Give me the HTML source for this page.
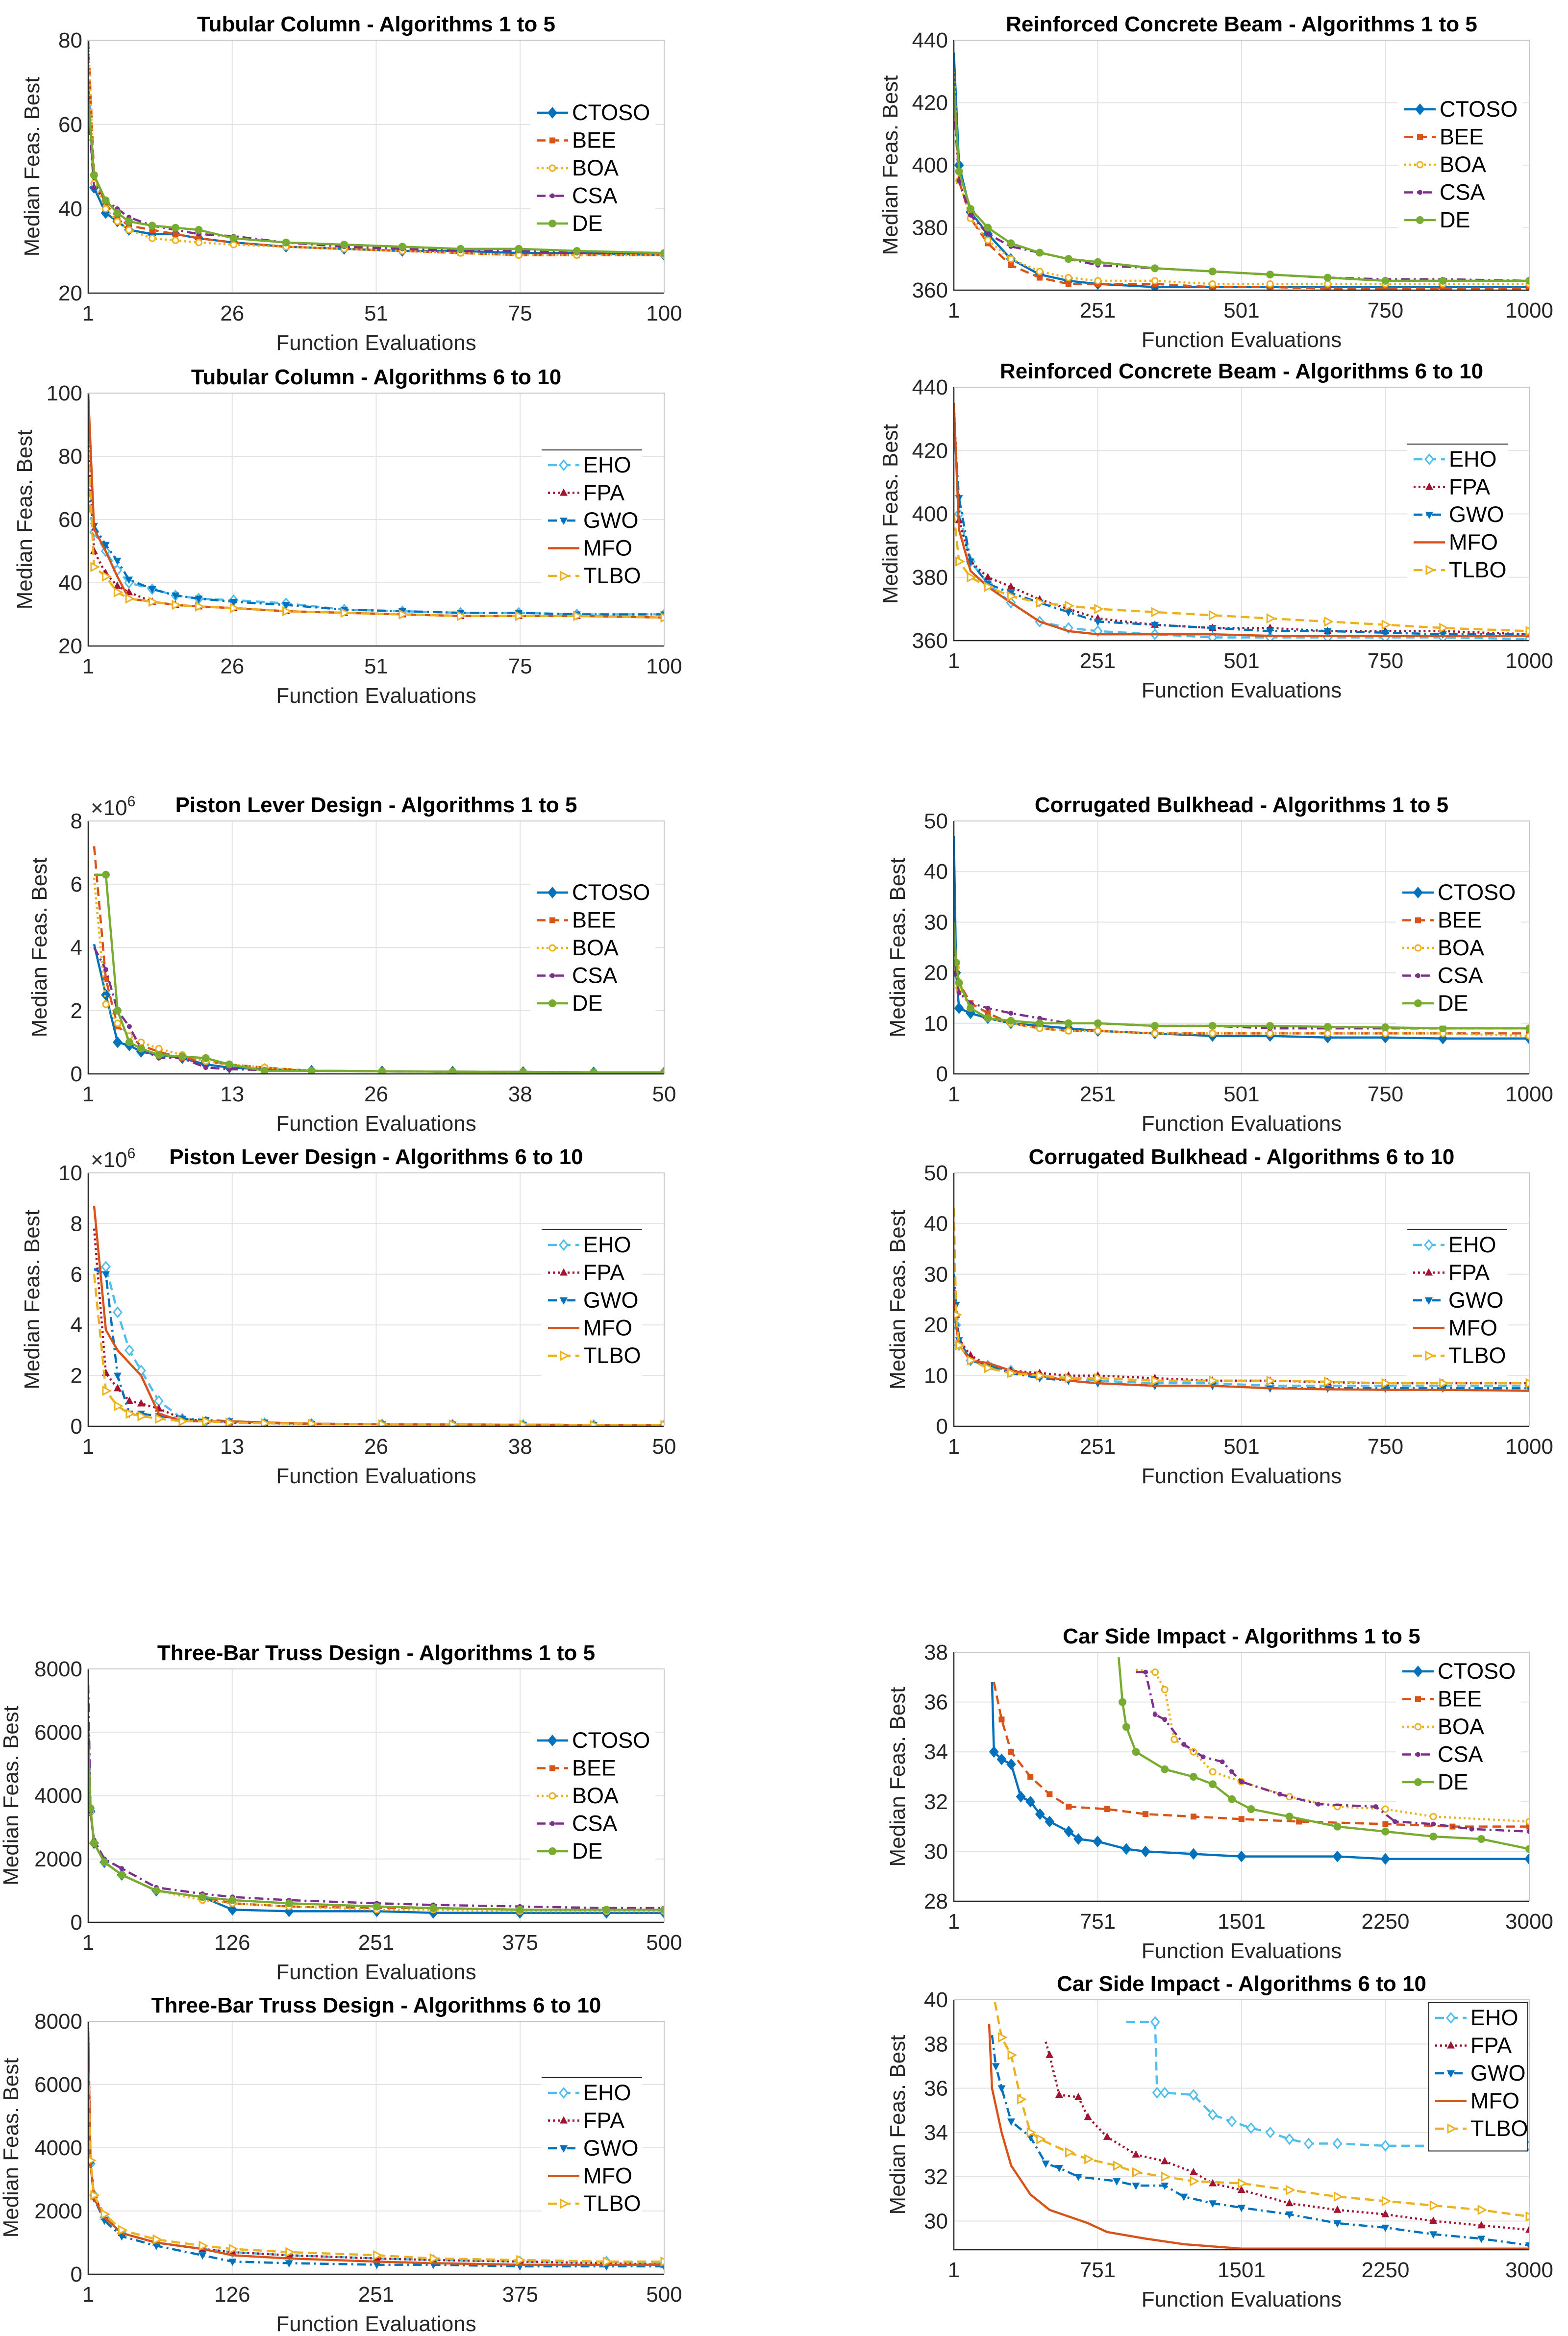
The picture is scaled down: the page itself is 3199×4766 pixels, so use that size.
<!DOCTYPE html>
<html><head><meta charset="utf-8"><title>Convergence plots</title>
<style>
html,body{margin:0;padding:0;background:#fff;}
svg{display:block;font-family:"Liberation Sans",Arial,sans-serif;}
</style></head>
<body>
<svg id="fig" xmlns="http://www.w3.org/2000/svg" width="3199" height="4766" viewBox="0 0 3199 4766">
<rect x="0" y="0" width="3199" height="4766" fill="#fff"/>
</svg>
<script>
// ---------- data ----------
const tcX=[1,2,4,6,8,12,16,20,26,35,45,55,65,75,85,100];
const tc1CTOSO=[69,45,39,37,35,34,34,33,32,31,30.5,30,30,29.5,29.5,29];
const tc1BEE=[80,48,41,38,36,35,34,33,32,31,30.5,30,29.5,29,29,29];
const tc1BOA=[80,46,40,37,35,33,32.5,32,31.5,31,30.5,30,29.5,29,29,29];
const tc1CSA=[64,45,42,40,38,36,35,34,33.5,32,31,30.5,30,30,29.5,29.5];
const tc1DE=[66,48,42,39,37,36,35.5,35,33,32,31.5,31,30.5,30.5,30,29.5];
const tc2EHO=[65,56,50,44,40,38,36,35,34.5,33.5,31.5,31,30.5,30.5,30,30];
const tc2FPA=[85,50,43,39,37,34,33,32.5,32,31,30.5,30,29.5,29.5,29.5,29];
const tc2GWO=[70,58,52,47,41,38,36,35,34,33,31.5,31,30.5,30.5,30,30];
const tc2MFO=[100,57,50,42,35,34,33,32.5,32,31,30.5,30,29.5,29.5,29.5,29];
const tc2TLBO=[82,45,42,37,35,34,33,32.5,32,31,30.5,30,29.5,29.5,29.5,29];

const rcX=[1,10,30,60,100,150,200,251,350,450,550,650,750,850,1000];
const rc1CTOSO=[436,400,385,378,370,365,363,362,361,361,361,361,361,361,361];
const rc1BEE=[425,395,383,375,368,364,362,362,362,361,361,360.5,360.5,360.5,360.5];
const rc1BOA=[430,395,383,376,370,366,364,363,363,362,362,362,362,362,362];
const rc1CSA=[420,395,384,378,374,372,370,368,367,366,365,364,363.5,363.5,363];
const rc1DE=[425,398,386,380,375,372,370,369,367,366,365,364,363,363,363];
const rc2EHO=[430,400,385,378,372,366,364,363,362,361,361,361,361,361,360.5];
const rc2FPA=[435,398,385,380,377,373,370,367,365,364,364,363,363,363,362];
const rc2GWO=[428,405,385,378,375,372,369,366,365,364,363,363,362.5,362,362];
const rc2MFO=[435,395,382,377,372,366,363,362,362,362,361.5,361.5,361.5,361.5,361.5];
const rc2TLBO=[400,385,380,377,374,372,371,370,369,368,367,366,365,364,363];

const plX=[1.5,2.5,3.5,4.5,5.5,7,9,11,13,16,20,26,32,38,44,50];
const pl1CTOSO=[4.1,2.5,1.0,0.9,0.7,0.6,0.5,0.3,0.2,0.15,0.1,0.08,0.07,0.06,0.05,0.05];
const pl1BEE=[7.2,3.0,1.5,1.2,0.9,0.7,0.5,0.4,0.3,0.2,0.1,0.08,0.07,0.06,0.05,0.05];
const pl1BOA=[6.2,2.2,1.6,1.2,1.0,0.8,0.6,0.4,0.3,0.2,0.1,0.08,0.07,0.06,0.05,0.05];
const pl1CSA=[4.0,3.3,2.0,1.5,0.8,0.5,0.5,0.2,0.15,0.12,0.1,0.08,0.07,0.06,0.05,0.05];
const pl1DE=[6.3,6.3,2.0,1.0,0.8,0.6,0.55,0.5,0.3,0.1,0.1,0.08,0.07,0.06,0.05,0.05];
const pl2EHO=[6.2,6.3,4.5,3.0,2.2,1.0,0.3,0.2,0.15,0.12,0.1,0.08,0.07,0.06,0.05,0.05];
const pl2FPA=[7.8,2.1,1.5,1.0,0.9,0.7,0.3,0.2,0.15,0.12,0.1,0.08,0.07,0.06,0.05,0.05];
const pl2GWO=[6.2,6.0,2.0,0.5,0.5,0.4,0.3,0.25,0.2,0.15,0.1,0.08,0.07,0.06,0.05,0.05];
const pl2MFO=[8.7,3.8,3.0,2.5,2.0,0.5,0.2,0.2,0.2,0.15,0.1,0.08,0.07,0.06,0.05,0.05];
const pl2TLBO=[6.0,1.4,0.8,0.5,0.4,0.3,0.2,0.2,0.15,0.12,0.1,0.08,0.07,0.06,0.05,0.05];

const cbX=[1,5,10,30,60,100,150,200,251,350,450,550,650,750,850,1000];
const cb1CTOSO=[47,20,13,12,11,10,9.5,9,8.5,8,7.5,7.5,7.2,7.2,7,7];
const cb1BEE=[30,22,18,14,12,10,9,8.5,8.5,8,8,8,8,8,8,8];
const cb1BOA=[28,21,17,13,11,10,9,8.5,8.5,8,8,8,8,8,8,7.5];
const cb1CSA=[25,20,16,14,13,12,11,10,10,9.5,9.5,9,9,9,9,9];
const cb1DE=[30,22,18,13,11,10.5,10,10,10,9.5,9.5,9.5,9.3,9.2,9,9];
const cb2EHO=[35,20,16,13,12,11,10,9.5,9,8.5,8.5,8,8,8,8,8];
const cb2FPA=[28,22,17,14,12,11,10.5,10,10,9.5,9,9,8.7,8.5,8.5,8.5];
const cb2GWO=[30,24,17,13,12,10.5,9.5,9,8.5,8,8,7.5,7.5,7.5,7.5,7.5];
const cb2MFO=[25,20,16,13,12.5,11,10,9,8.5,8,8,7.5,7.3,7.2,7.2,7];
const cb2TLBO=[43,22,16,13,11.5,10.5,10,9.5,9.5,9,9,9,8.8,8.5,8.5,8.5];

const tbX=[1,3,6,15,30,60,100,126,175,251,300,375,450,500];
const tb1CTOSO=[6300,3500,2500,1900,1500,1000,800,400,350,350,300,300,300,300];
const tb1BEE=[5600,3500,2500,1900,1500,1000,800,600,500,450,450,400,400,400];
const tb1BOA=[6500,3500,2500,1900,1500,1000,700,600,500,400,400,350,350,350];
const tb1CSA=[7500,3500,2600,2000,1700,1100,900,800,700,600,550,500,450,450];
const tb1DE=[5600,3600,2500,1900,1500,1000,800,700,600,500,450,400,400,400];
const tb2EHO=[6300,3500,2500,1800,1300,1000,800,700,600,500,450,400,400,350];
const tb2FPA=[7800,3600,2500,1800,1300,1000,800,700,600,500,450,400,350,300];
const tb2GWO=[6300,3500,2400,1700,1200,900,600,400,350,300,300,250,250,250];
const tb2MFO=[7700,3500,2400,1800,1300,1000,800,600,500,400,350,300,300,300];
const tb2TLBO=[6400,3600,2500,1900,1400,1100,900,800,700,600,500,450,400,400];

const cs1CTOSOx=[200,210,250,300,350,400,450,500,600,650,750,900,1000,1250,1500,2000,2250,3000];
const cs1CTOSO=[36.8,34,33.7,33.5,32.2,32,31.5,31.2,30.8,30.5,30.4,30.1,30,29.9,29.8,29.8,29.7,29.7];
const cs1BEEx=[210,250,300,400,500,600,800,1000,1250,1500,1800,2250,2600,3000];
const cs1BEE=[36.8,35.3,34,33,32.3,31.8,31.7,31.5,31.4,31.3,31.2,31.1,31,31];
const cs1BOAx=[950,1050,1100,1150,1250,1350,1500,1750,2000,2250,2500,3000];
const cs1BOA=[37.3,37.2,36.5,34.5,34,33.2,32.8,32.2,31.8,31.7,31.4,31.2];
const cs1CSAx=[950,1000,1050,1100,1200,1300,1400,1450,1500,1700,1900,2200,2300,2500,2700,3000];
const cs1CSA=[37.2,37.2,35.5,35.3,34.3,33.8,33.6,33.2,32.8,32.3,31.9,31.8,31.2,31.1,30.9,30.8];
const cs1DEx=[860,880,900,950,1100,1250,1350,1450,1550,1750,2000,2250,2500,2750,3000];
const cs1DE=[37.8,36,35,34,33.3,33,32.7,32.1,31.7,31.4,31,30.8,30.6,30.5,30.1];
const cs2EHOx=[900,1050,1060,1100,1250,1350,1450,1550,1650,1750,1850,2000,2250,2500,2750,3000];
const cs2EHO=[39,39,35.8,35.8,35.7,34.8,34.5,34.2,34,33.7,33.5,33.5,33.4,33.4,33.4,33.4];
const cs2FPAx=[480,500,550,650,700,800,950,1100,1250,1350,1500,1750,2000,2250,2500,2750,3000];
const cs2FPA=[38.1,37.5,35.7,35.6,34.7,33.8,33,32.7,32.2,31.7,31.4,30.8,30.5,30.3,30,29.8,29.6];
const cs2GWOx=[200,220,250,300,400,480,550,650,850,950,1100,1200,1350,1500,1750,2000,2250,2500,2750,3000];
const cs2GWO=[38.4,37,36,34.5,33.8,32.6,32.4,32,31.8,31.6,31.6,31.1,30.8,30.6,30.3,29.9,29.7,29.4,29.2,28.9];
const cs2MFOx=[185,200,250,300,400,500,600,700,800,1000,1200,1500,3000];
const cs2MFO=[38.9,36,34,32.5,31.2,30.5,30.2,29.9,29.5,29.2,28.95,28.75,28.75];
const cs2TLBOx=[215,250,300,350,400,450,600,700,850,950,1100,1250,1500,1750,2000,2250,2500,2750,3000];
const cs2TLBO=[39.9,38.3,37.5,35.5,34,33.7,33.1,32.8,32.5,32.2,32,31.8,31.7,31.4,31.1,30.9,30.7,30.5,30.2];

// tick labels
const xt100=['1','26','51','75','100'];
const xt1000=['1','251','501','750','1000'];
const xt50=['1','13','26','38','50'];
const xt500=['1','126','251','375','500'];
const xt3000=['1','751','1501','2250','3000'];

// ---------- styles ----------
const STY={
 CTOSO:{c:'#0072BD',d:'',m:'diamond'},
 BEE:{c:'#D95319',d:'18,10',m:'square'},
 BOA:{c:'#EDB120',d:'4,6',m:'ocircle'},
 CSA:{c:'#7E2F8E',d:'18,8,4,8',m:'dot'},
 DE:{c:'#77AC30',d:'',m:'circle'},
 EHO:{c:'#4DBEEE',d:'18,10',m:'odiamond'},
 FPA:{c:'#A2142F',d:'4,6',m:'tri'},
 GWO:{c:'#0072BD',d:'18,8,4,8',m:'dtri'},
 MFO:{c:'#D95319',d:'',m:'none'},
 TLBO:{c:'#EDB120',d:'18,10',m:'rtri'}
};
const FS=44;
const NS='http://www.w3.org/2000/svg';
const svg=document.getElementById('fig');
function mk(tag,attrs,parent){const e=document.createElementNS(NS,tag);for(const k in attrs)e.setAttribute(k,attrs[k]);(parent||svg).appendChild(e);return e;}

function marker(g,type,x,y,c){
 let e=null;const r=8;
 if(type==='diamond'||type==='odiamond'){e=mk('polygon',{points:`${x},${y-r*1.2} ${x+r},${y} ${x},${y+r*1.2} ${x-r},${y}`,fill:type==='diamond'?c:'#fff',stroke:c,'stroke-width':3},g);}
 else if(type==='square'){e=mk('rect',{x:x-6,y:y-6,width:12,height:12,fill:c},g);}
 else if(type==='ocircle'){e=mk('circle',{cx:x,cy:y,r:6,fill:'#fff',stroke:c,'stroke-width':3},g);}
 else if(type==='dot'){e=mk('circle',{cx:x,cy:y,r:5,fill:c},g);}
 else if(type==='circle'){e=mk('circle',{cx:x,cy:y,r:8,fill:c},g);}
 else if(type==='tri'){e=mk('polygon',{points:`${x},${y-9} ${x+8},${y+6} ${x-8},${y+6}`,fill:c},g);}
 else if(type==='dtri'){e=mk('polygon',{points:`${x},${y+9} ${x+8},${y-6} ${x-8},${y-6}`,fill:c},g);}
 else if(type==='rtri'){e=mk('polygon',{points:`${x+9},${y} ${x-6},${y-8} ${x-6},${y+8}`,fill:'#fff',stroke:c,'stroke-width':3},g);}
 if(e){
 }
}

function plot(cfg){
 const {id,L,R,T,B,title,xmin,xmax,xlabels,ymin,ymax,yticks,ylabels,series,legend,legStyle,exp}=cfg;
 const yoff=cfg.yoff||100;
 const g=mk('g',{});
 
 
 const sx=v=>L+(v-xmin)/(xmax-xmin)*(R-L);
 const sy=v=>B-(v-ymin)/(ymax-ymin)*(B-T);
 const n=xlabels.length;
 for(let i=0;i<n;i++){
  const xv=xmin+(xmax-xmin)*i/(n-1);const x=sx(xv);
  const gl=mk('line',{x1:x,x2:x,y1:T,y2:B,stroke:'#e3e3e3','stroke-width':2},g);
  
  
  const t=mk('text',{x:x,y:B+56,'text-anchor':'middle','font-size':FS,fill:'#262626'},g);t.textContent=xlabels[i];
  
  
 }
 yticks.forEach((v,i)=>{
  const y=sy(v);
  const gl=mk('line',{x1:L,x2:R,y1:y,y2:y,stroke:'#e3e3e3','stroke-width':2},g);
  
  
  const t=mk('text',{x:L-12,y:y+15,'text-anchor':'end','font-size':FS,fill:'#262626'},g);t.textContent=ylabels[i];
  
  
 });
 const cp='cp'+id;
 const cl=mk('clipPath',{id:cp},g);mk('rect',{x:L,y:T,width:R-L,height:B-T},cl);
 const sg=mk('g',{'clip-path':`url(#${cp})`},g);
 series.forEach(s=>{
  const st=STY[s.n];
  const pts=s.x.map((xv,i)=>sx(xv).toFixed(1)+','+sy(s.y[i]).toFixed(1)).join(' ');
  const pl=mk('polyline',{points:pts,fill:'none',stroke:st.c,'stroke-width':4.5,'stroke-dasharray':st.d,'stroke-linejoin':'round'},sg);
  
  
  s.x.forEach((xv,i)=>{ if(i>0) marker(sg,st.m,sx(xv),sy(s.y[i]),st.c); });
 });
 const ax=mk('path',{d:`M${L},${T} L${L},${B} L${R},${B}`,fill:'none',stroke:'#262626','stroke-width':2.5},g);
 
 
 mk('path',{d:`M${L},${T} L${R},${T} L${R},${B}`,fill:'none',stroke:'#c8c8c8','stroke-width':2},g);
 const tt=mk('text',{x:(L+R)/2,y:T-18,'text-anchor':'middle','font-size':FS,'font-weight':'bold',fill:'#000'},g);tt.textContent=title;
 
 
 const xl=mk('text',{x:(L+R)/2,y:B+116,'text-anchor':'middle','font-size':FS,fill:'#262626'},g);xl.textContent='Function Evaluations';
 
 
 const yx=L-yoff,yy=(T+B)/2;
 const yl=mk('text',{x:yx,y:yy,'text-anchor':'middle','font-size':FS,fill:'#262626',transform:`rotate(-90 ${yx} ${yy})`},g);yl.textContent='Median Feas. Best';
 
 
 if(exp){const ex=mk('text',{x:L+5,y:T-12,'font-size':FS,fill:'#262626'},g);ex.innerHTML='×10<tspan font-size="30" dy="-18">6</tspan>';
  
  }
 const lg=mk('g',{},g);
 
 
 const tx=legend.tx,ty=legend.ty,dy=56.5;
 const bx=tx-85,bw=legend.w||255,by=ty-46,bh=dy*5+20;
 mk('rect',{x:bx,y:by,width:bw,height:bh,fill:'#fff',stroke:legStyle==='box'?'#262626':'none','stroke-width':2},lg);
 if(legStyle==='top') mk('line',{x1:bx,x2:bx+bw,y1:by,y2:by,stroke:'#262626','stroke-width':2},lg);
 series.forEach((s,i)=>{
  const st=STY[s.n];const y=ty+i*dy;
  const e=mk('g',{},lg);
  
  
  mk('line',{x1:tx-72,x2:tx-8,y1:y-15,y2:y-15,stroke:st.c,'stroke-width':4.5,'stroke-dasharray':st.d},e);
  marker(e,st.m,tx-40,y-15,st.c);
  const t=mk('text',{x:tx,y:y,'font-size':FS+1,fill:'#000'},e);t.textContent=s.n;
 });
}
function S(n,x,y){return {n,x,y};}
const A1=(p,q,r,s,t)=>[S('CTOSO',p[0],p[1]),S('BEE',q[0],q[1]),S('BOA',r[0],r[1]),S('CSA',s[0],s[1]),S('DE',t[0],t[1])];
const A2=(p,q,r,s,t)=>[S('EHO',p[0],p[1]),S('FPA',q[0],q[1]),S('GWO',r[0],r[1]),S('MFO',s[0],s[1]),S('TLBO',t[0],t[1])];

const LL=180,LR=1355,RL=1946,RR=3120;
plot({id:'tubular-1-5',L:LL,R:LR,T:82,B:598,title:'Tubular Column - Algorithms 1 to 5',xmin:1,xmax:100,xlabels:xt100,ymin:20,ymax:80,yticks:[20,40,60,80],ylabels:['20','40','60','80'],
 series:A1([tcX,tc1CTOSO],[tcX,tc1BEE],[tcX,tc1BOA],[tcX,tc1CSA],[tcX,tc1DE]),legend:{tx:1167,ty:245},legStyle:'none'});
plot({id:'tubular-6-10',L:LL,R:LR,T:802,B:1318,title:'Tubular Column - Algorithms 6 to 10',xmin:1,xmax:100,xlabels:xt100,ymin:20,ymax:100,yticks:[20,40,60,80,100],ylabels:['20','40','60','80','100'],yoff:115,
 series:A2([tcX,tc2EHO],[tcX,tc2FPA],[tcX,tc2GWO],[tcX,tc2MFO],[tcX,tc2TLBO]),legend:{tx:1190,ty:964,w:205},legStyle:'top'});
plot({id:'rcbeam-1-5',L:RL,R:RR,T:82,B:592,title:'Reinforced Concrete Beam - Algorithms 1 to 5',xmin:1,xmax:1000,xlabels:xt1000,ymin:360,ymax:440,yticks:[360,380,400,420,440],ylabels:['360','380','400','420','440'],yoff:115,
 series:A1([rcX,rc1CTOSO],[rcX,rc1BEE],[rcX,rc1BOA],[rcX,rc1CSA],[rcX,rc1DE]),legend:{tx:2937,ty:238},legStyle:'none'});
plot({id:'rcbeam-6-10',L:RL,R:RR,T:790,B:1307,title:'Reinforced Concrete Beam - Algorithms 6 to 10',xmin:1,xmax:1000,xlabels:xt1000,ymin:360,ymax:440,yticks:[360,380,400,420,440],ylabels:['360','380','400','420','440'],yoff:115,
 series:A2([rcX,rc2EHO],[rcX,rc2FPA],[rcX,rc2GWO],[rcX,rc2MFO],[rcX,rc2TLBO]),legend:{tx:2956,ty:952,w:205},legStyle:'top'});
plot({id:'piston-1-5',L:LL,R:LR,T:1675,B:2191,title:'Piston Lever Design - Algorithms 1 to 5',xmin:1,xmax:50,xlabels:xt50,ymin:0,ymax:8,yticks:[0,2,4,6,8],ylabels:['0','2','4','6','8'],exp:true,yoff:85,
 series:A1([plX,pl1CTOSO],[plX,pl1BEE],[plX,pl1BOA],[plX,pl1CSA],[plX,pl1DE]),legend:{tx:1167,ty:1836},legStyle:'none'});
plot({id:'piston-6-10',L:LL,R:LR,T:2393,B:2910,title:'Piston Lever Design - Algorithms 6 to 10',xmin:1,xmax:50,xlabels:xt50,ymin:0,ymax:10,yticks:[0,2,4,6,8,10],ylabels:['0','2','4','6','8','10'],exp:true,
 series:A2([plX,pl2EHO],[plX,pl2FPA],[plX,pl2GWO],[plX,pl2MFO],[plX,pl2TLBO]),legend:{tx:1190,ty:2555,w:205},legStyle:'top'});
plot({id:'bulkhead-1-5',L:RL,R:RR,T:1675,B:2191,title:'Corrugated Bulkhead - Algorithms 1 to 5',xmin:1,xmax:1000,xlabels:xt1000,ymin:0,ymax:50,yticks:[0,10,20,30,40,50],ylabels:['0','10','20','30','40','50'],
 series:A1([cbX,cb1CTOSO],[cbX,cb1BEE],[cbX,cb1BOA],[cbX,cb1CSA],[cbX,cb1DE]),legend:{tx:2933,ty:1836},legStyle:'none'});
plot({id:'bulkhead-6-10',L:RL,R:RR,T:2393,B:2910,title:'Corrugated Bulkhead - Algorithms 6 to 10',xmin:1,xmax:1000,xlabels:xt1000,ymin:0,ymax:50,yticks:[0,10,20,30,40,50],ylabels:['0','10','20','30','40','50'],
 series:A2([cbX,cb2EHO],[cbX,cb2FPA],[cbX,cb2GWO],[cbX,cb2MFO],[cbX,cb2TLBO]),legend:{tx:2955,ty:2555,w:205},legStyle:'top'});
plot({id:'truss-1-5',L:LL,R:LR,T:3405,B:3922,title:'Three-Bar Truss Design - Algorithms 1 to 5',xmin:1,xmax:500,xlabels:xt500,ymin:0,ymax:8000,yticks:[0,2000,4000,6000,8000],ylabels:['0','2000','4000','6000','8000'],yoff:143,
 series:A1([tbX,tb1CTOSO],[tbX,tb1BEE],[tbX,tb1BOA],[tbX,tb1CSA],[tbX,tb1DE]),legend:{tx:1167,ty:3566},legStyle:'none'});
plot({id:'truss-6-10',L:LL,R:LR,T:4124,B:4640,title:'Three-Bar Truss Design - Algorithms 6 to 10',xmin:1,xmax:500,xlabels:xt500,ymin:0,ymax:8000,yticks:[0,2000,4000,6000,8000],ylabels:['0','2000','4000','6000','8000'],yoff:143,
 series:A2([tbX,tb2EHO],[tbX,tb2FPA],[tbX,tb2GWO],[tbX,tb2MFO],[tbX,tb2TLBO]),legend:{tx:1190,ty:4285,w:205},legStyle:'top'});
plot({id:'carside-1-5',L:RL,R:RR,T:3371,B:3879,title:'Car Side Impact - Algorithms 1 to 5',xmin:1,xmax:3000,xlabels:xt3000,ymin:28,ymax:38,yticks:[28,30,32,34,36,38],ylabels:['28','30','32','34','36','38'],
 series:A1([cs1CTOSOx,cs1CTOSO],[cs1BEEx,cs1BEE],[cs1BOAx,cs1BOA],[cs1CSAx,cs1CSA],[cs1DEx,cs1DE]),legend:{tx:2933,ty:3425},legStyle:'none'});
plot({id:'carside-6-10',L:RL,R:RR,T:4080,B:4590,title:'Car Side Impact - Algorithms 6 to 10',xmin:1,xmax:3000,xlabels:xt3000,ymin:28.7,ymax:40,yticks:[30,32,34,36,38,40],ylabels:['30','32','34','36','38','40'],
 series:A2([cs2EHOx,cs2EHO],[cs2FPAx,cs2FPA],[cs2GWOx,cs2GWO],[cs2MFOx,cs2MFO],[cs2TLBOx,cs2TLBO]),legend:{tx:3000,ty:4132,w:202},legStyle:'box'});
</script>
</body></html>
